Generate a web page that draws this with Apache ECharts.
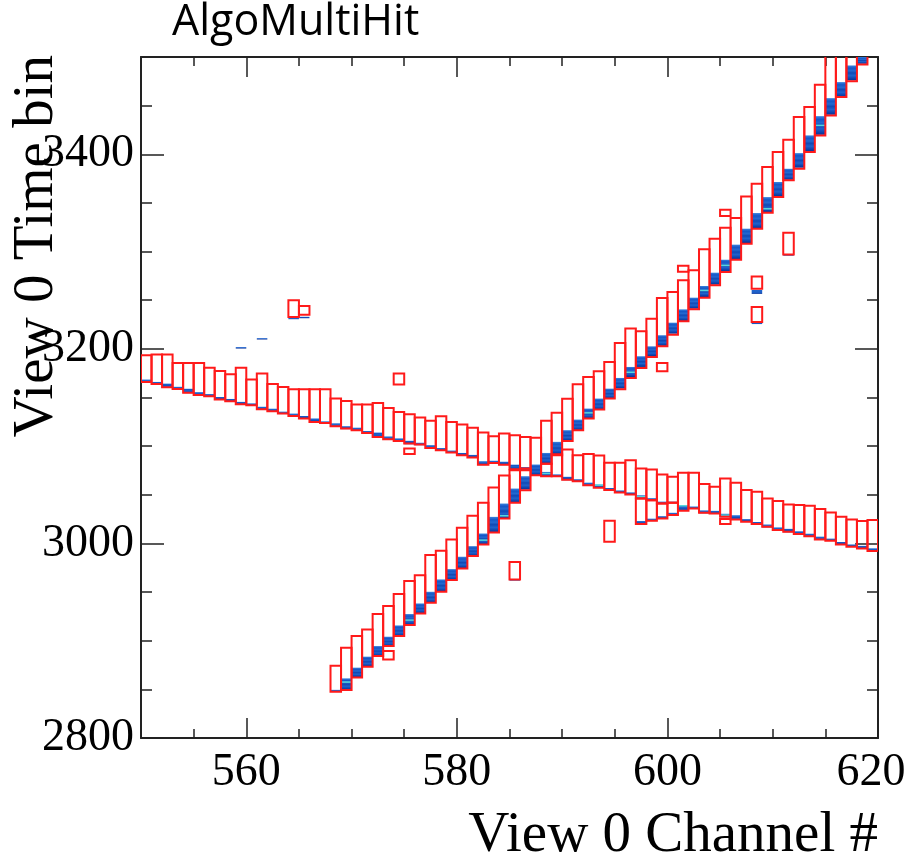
<!DOCTYPE html>
<html>
<head>
<meta charset="utf-8">
<script src="https://cdn.jsdelivr.net/npm/echarts@6/dist/echarts.min.js"></script>
<style>
  html, body { margin: 0; padding: 0; background: #fff; }
  #chart { width: 908px; height: 859px; }
</style>
</head>
<body>
<div id="chart"></div>
<script>
// Axis ranges and tick positions
const xRange = [550, 620];
const yRange = [2800, 3500];
const xLabelValues = [560, 580, 600, 620];
const xMinorTicks = [555, 565, 570, 575, 585, 590, 595, 605, 610, 615];
const yLabelValues = [2800, 3000, 3200, 3400];
const yMinorTicks = [2850, 2900, 2950, 3050, 3100, 3150, 3250, 3300, 3350, 3450];

// Reconstructed hits: [channel, start tick, end tick]
const shallowHits = [
  [550, 3166.0, 3193.4], [551, 3163.9, 3194.1], [552, 3160.5, 3194.1], [553, 3158.8, 3185.5],
  [554, 3155.0, 3185.5], [555, 3152.6, 3185.5], [556, 3151.3, 3180.7], [557, 3147.9, 3177.3],
  [558, 3146.1, 3173.9], [559, 3143.1, 3180.7], [560, 3142.0, 3168.4], [561, 3137.9, 3174.6],
  [562, 3135.9, 3164.0], [563, 3133.5, 3160.9], [564, 3131.1, 3158.5], [565, 3128.3, 3158.5],
  [566, 3124.9, 3158.5], [567, 3123.9, 3158.5], [568, 3120.5, 3148.9], [569, 3118.1, 3146.5],
  [570, 3116.4, 3142.7], [571, 3113.6, 3142.7], [572, 3109.5, 3144.4], [573, 3107.1, 3139.3],
  [574, 3105.4, 3135.2], [575, 3102.7, 3132.8], [576, 3101.7, 3129.4], [577, 3098.2, 3126.0],
  [578, 3095.8, 3130.8], [579, 3093.4, 3124.9], [580, 3090.7, 3122.2], [581, 3088.3, 3118.8],
  [582, 3081.0, 3114.0], [583, 3082.8, 3110.2], [584, 3081.0, 3113.0], [585, 3076.3, 3111.2],
  [586, 3075.3, 3109.5], [588, 3069.1, 3082.0], [589, 3069.1, 3091.7], [590, 3065.5, 3096.6],
  [591, 3064.0, 3090.7], [592, 3059.9, 3091.8], [593, 3057.3, 3090.4], [594, 3054.8, 3082.9],
  [595, 3052.4, 3082.9], [596, 3050.3, 3085.6], [597, 3046.2, 3077.1], [597, 3019.9, 3046.2],
  [598, 3044.5, 3076.0], [598, 3023.3, 3044.5], [599, 3041.1, 3070.9], [599, 3025.7, 3041.1],
  [600, 3041.8, 3068.5], [600, 3029.1, 3041.8], [601, 3033.6, 3072.6], [602, 3036.0, 3072.6],
  [603, 3031.5, 3061.0], [604, 3030.8, 3058.2], [605, 3027.4, 3066.8], [606, 3024.7, 3062.3],
  [607, 3022.3, 3054.8], [608, 3019.9, 3053.1], [609, 3017.1, 3046.2], [610, 3013.7, 3043.5],
  [611, 3012.0, 3040.1], [612, 3009.6, 3039.4], [613, 3007.5, 3038.7], [614, 3004.1, 3035.3],
  [615, 3002.8, 3031.9], [616, 2999.0, 3027.4], [617, 2996.6, 3024.7], [618, 2994.9, 3023.0],
  [619, 2992.1, 3024.0]
];

const steepHits = [
  [568, 2847.6, 2874.3], [569, 2849.3, 2892.8], [570, 2862.3, 2904.8], [571, 2873.3, 2911.6],
  [572, 2884.2, 2927.4], [573, 2894.5, 2935.6], [574, 2904.8, 2947.9], [575, 2916.1, 2961.3],
  [576, 2928.1, 2967.4], [577, 2939.0, 2988.0], [578, 2950.3, 2992.4], [579, 2962.3, 3004.1],
  [580, 2974.3, 3016.0], [581, 2987.0, 3028.4], [582, 2998.8, 3041.7], [583, 3011.3, 3057.5],
  [584, 3025.6, 3069.8], [585, 3041.7, 3075.3], [586, 3054.7, 3077.0], [587, 3070.1, 3108.5],
  [588, 3082.0, 3126.0], [589, 3090.7, 3134.2], [590, 3105.4, 3148.7], [591, 3116.4, 3163.6],
  [592, 3128.4, 3171.2], [593, 3137.6, 3177.0], [594, 3148.9, 3186.5], [595, 3158.5, 3206.0],
  [596, 3170.1, 3220.8], [597, 3180.4, 3218.0], [598, 3191.7, 3231.0], [599, 3202.6, 3252.3],
  [600, 3214.6, 3258.4], [601, 3228.3, 3270.4], [602, 3240.6, 3280.7], [603, 3252.6, 3302.3],
  [604, 3265.3, 3313.2], [605, 3279.0, 3324.5], [606, 3291.6, 3334.5], [607, 3308.1, 3356.7],
  [608, 3323.5, 3369.7], [609, 3340.0, 3386.9], [610, 3356.0, 3402.3], [611, 3373.2, 3414.9],
  [612, 3385.1, 3438.2], [613, 3402.3, 3448.5], [614, 3419.4, 3471.4], [615, 3439.9, 3530],
  [616, 3458.8, 3540], [617, 3475.2, 3550], [618, 3492.3, 3560]
];

const strayHits = [
  [564, 3232.8, 3249.9], [565, 3235.0, 3244.0], [574, 3163.3, 3174.6], [575, 3091.8, 3097.6],
  [573, 2880.8, 2889.4], [585, 2962.9, 2980.8], [594, 3001.7, 3023.3], [599, 3177.0, 3185.5],
  [601, 3279.3, 3285.5], [605, 3336.5, 3343.0], [605, 3019.9, 3025.0], [608, 3261.9, 3274.5],
  [608, 3227.6, 3243.0], [611, 3297.1, 3319.4]
];

// Wire signal above threshold: [channel, low tick, high tick]
const shallowSignal = [
  [550, 3165.5, 3168.5], [551, 3163.5, 3166], [552, 3160, 3164.3], [553, 3158.5, 3161],
  [554, 3154.5, 3159], [555, 3152, 3155.5], [556, 3151, 3153.5], [557, 3147.5, 3150.5],
  [558, 3145.5, 3148.5], [559, 3142.5, 3145.5], [560, 3141.5, 3144], [561, 3137.5, 3140.5],
  [562, 3135.5, 3138.5], [563, 3133, 3135.5], [564, 3130.5, 3133.5], [565, 3128, 3131],
  [566, 3124.5, 3128.5], [567, 3123.5, 3125.5], [568, 3120, 3123.5], [569, 3117.5, 3120.5],
  [570, 3116, 3119], [571, 3113, 3115.5], [572, 3109, 3114], [573, 3106.5, 3110],
  [574, 3105, 3108], [575, 3102, 3105.5], [576, 3101, 3103.5], [577, 3097.5, 3101],
  [578, 3095.5, 3098], [579, 3093, 3095.5], [580, 3090, 3093], [581, 3088, 3091],
  [582, 3080.5, 3084.5], [583, 3082.5, 3085], [584, 3080.5, 3084], [585, 3076, 3081],
  [586, 3075, 3078.5], [588, 3069, 3073.5], [589, 3069, 3071], [590, 3065, 3068.5],
  [591, 3063.5, 3066], [592, 3059.5, 3062.5], [593, 3057, 3060.5], [594, 3054.5, 3057],
  [595, 3052, 3054.5], [596, 3050, 3052.5], [597, 3046, 3049.5], [597, 3019.5, 3023],
  [598, 3044, 3046.5], [598, 3023, 3025.5], [599, 3040.5, 3043], [599, 3025.5, 3028],
  [600, 3041.5, 3043], [600, 3029, 3031.5], [601, 3033.5, 3039], [602, 3035.5, 3038],
  [603, 3031, 3034], [604, 3030.5, 3033.5], [605, 3027, 3030.5], [606, 3024.5, 3029],
  [607, 3022, 3025], [608, 3019.5, 3022], [609, 3016.5, 3019.5], [610, 3013.5, 3016.5],
  [611, 3011.5, 3015], [612, 3009.5, 3012.5], [613, 3007, 3010], [614, 3004, 3007],
  [615, 3002.5, 3005], [616, 2998.5, 3001.5], [617, 2996.5, 2999], [618, 2994.5, 2997.5],
  [619, 2992, 2995]
];

const steepSignal = [
  [568, 2847.3, 2849.5], [569, 2849.3, 2861.3], [570, 2862.3, 2872.3], [571, 2873.3, 2883.6],
  [572, 2884.2, 2894.5], [573, 2894.5, 2904.1], [574, 2904.8, 2915.7], [575, 2916.1, 2927.4],
  [576, 2928.1, 2938.3], [577, 2939.0, 2950.3], [578, 2950.3, 2963.0], [579, 2962.3, 2973.6],
  [580, 2974.3, 2986.3], [581, 2987.0, 2997.2], [582, 2998.9, 3010.2], [583, 3011.3, 3027.3],
  [584, 3025.6, 3041.0], [585, 3041.7, 3056.4], [586, 3055.4, 3069.1], [587, 3070.2, 3081.1],
  [588, 3082.0, 3093.0], [589, 3091.7, 3104.4], [590, 3105.4, 3116.4], [591, 3116.4, 3127.3],
  [592, 3128.4, 3138.6], [593, 3137.6, 3148.9], [594, 3148.9, 3159.1], [595, 3159.2, 3170.1],
  [596, 3171.1, 3181.4], [597, 3181.4, 3192.4], [598, 3192.4, 3202.6], [599, 3203.0, 3214.0],
  [600, 3215.6, 3226.9], [601, 3228.6, 3240.6], [602, 3241.3, 3252.6], [603, 3253.3, 3264.6],
  [604, 3266.0, 3278.3], [605, 3279.7, 3291.6], [606, 3292.0, 3307.1], [607, 3308.8, 3323.5],
  [608, 3323.5, 3339.6], [609, 3339.9, 3356.0], [610, 3356.7, 3371.5], [611, 3373.8, 3385.1],
  [612, 3386.2, 3401.2], [613, 3403.0, 3419.4], [614, 3420.0, 3439.2], [615, 3440.6, 3457.7],
  [616, 3458.8, 3474.2], [617, 3475.9, 3491.3], [618, 3493.0, 3500.0]
];

const straySignal = [
  [559, 3200.3, 3201.8], [561, 3209.6, 3211.0], [564, 3230.5, 3232.5], [565, 3231.5, 3233.0],
  [585, 2961.8, 2963.3], [608, 3256.5, 3260.5], [608, 3225.5, 3227.0], [611, 3295.8, 3297.3]
];

// Brightest samples on some wires: [channel, tick]
const signalPeaks = [
  [569, 2857.5], [575, 2921.2], [582, 3003.4], [584, 3028.4], [588, 3071.9], [592, 3134.2],
  [596, 3176.0], [603, 3260.0], [605, 3285.8], [609, 3344.0], [614, 3429.7],
  [593, 3059.9], [601, 3038.7], [605, 3029.1], [597, 3048.0]
];

const chart = echarts.init(document.getElementById('chart'), null, { renderer: 'canvas' });

function cellRect(api, ch, lo, hi) {
  const p0 = api.coord([ch, hi]);
  const p1 = api.coord([ch + 1, lo]);
  return { x: p0[0], y: p0[1], width: p1[0] - p0[0], height: p1[1] - p0[1] };
}

const signalFill = new echarts.graphic.LinearGradient(0, 0, 0, 1, [
  { offset: 0, color: '#3a84de' },
  { offset: 0.18, color: '#1557c6' },
  { offset: 0.35, color: '#2469d0' },
  { offset: 0.5, color: '#1149b4' },
  { offset: 0.68, color: '#1f62cb' },
  { offset: 0.85, color: '#1045ae' },
  { offset: 1, color: '#0b2f92' }
]);

function signalSeries(data) {
  return {
    type: 'custom',
    xAxisIndex: 0,
    yAxisIndex: 0,
    clip: true,
    silent: true,
    data: data,
    renderItem: function (params, api) {
      return {
        type: 'rect',
        shape: cellRect(api, api.value(0), api.value(1), api.value(2)),
        style: { fill: signalFill }
      };
    }
  };
}

function hitSeries(data) {
  return {
    type: 'custom',
    xAxisIndex: 0,
    yAxisIndex: 0,
    clip: true,
    silent: true,
    data: data,
    renderItem: function (params, api) {
      return {
        type: 'rect',
        shape: cellRect(api, api.value(0), api.value(1), api.value(2)),
        style: { fill: null, stroke: '#ff1a1a', lineWidth: 2 }
      };
    }
  };
}

const peakSeries = {
  type: 'custom',
  xAxisIndex: 0,
  yAxisIndex: 0,
  clip: true,
  silent: true,
  data: signalPeaks,
  renderItem: function (params, api) {
    const t = api.value(1);
    return {
      type: 'rect',
      shape: cellRect(api, api.value(0), t - 0.8, t + 0.8),
      style: { fill: '#56d6dc' }
    };
  }
};

const serif = 'Liberation Serif';
const frameLine = { show: true, lineStyle: { color: '#222', width: 2 } };
const plainNumber = function (v) { return String(v); };
// the last channel label is nudged left so it stays inside the canvas
const xLabelText = function (v) { return v === xRange[1] ? '{edge|' + v + '}' : String(v); };

function xAxisDef(position, ticks, len, showLabel, showLine) {
  return {
    type: 'value', min: xRange[0], max: xRange[1], position: position,
    axisLine: showLine ? frameLine : { show: false },
    axisTick: { show: true, inside: true, length: len, customValues: ticks, lineStyle: { color: '#222', width: 1.5 } },
    axisLabel: showLabel
      ? {
          show: true, customValues: xLabelValues, formatter: xLabelText,
          fontFamily: serif, fontSize: 46, color: '#000', margin: 12,
          rich: { edge: { fontFamily: serif, fontSize: 46, color: '#000', padding: [0, 14, 0, 0] } }
        }
      : { show: false },
    splitLine: { show: false }
  };
}

function yAxisDef(position, ticks, len, showLabel, showLine) {
  return {
    type: 'value', min: yRange[0], max: yRange[1], position: position,
    axisLine: showLine ? frameLine : { show: false },
    axisTick: { show: true, inside: true, length: len, customValues: ticks, lineStyle: { color: '#222', width: 1.5 } },
    axisLabel: showLabel
      ? { show: true, customValues: yLabelValues, formatter: plainNumber, fontFamily: serif, fontSize: 46, color: '#000', margin: 7 }
      : { show: false },
    splitLine: { show: false }
  };
}

chart.setOption({
  animation: false,
  backgroundColor: '#ffffff',
  grid: { left: 141, right: 30, top: 57, bottom: 121, containLabel: false, outerBoundsMode: 'none' },
  xAxis: [
    xAxisDef('bottom', xLabelValues, 20, true, true),
    xAxisDef('bottom', xMinorTicks, 9, false, false),
    xAxisDef('top', xLabelValues, 20, false, true),
    xAxisDef('top', xMinorTicks, 9, false, false)
  ],
  yAxis: [
    yAxisDef('left', yLabelValues, 23, true, true),
    yAxisDef('left', yMinorTicks, 11, false, false),
    yAxisDef('right', yLabelValues, 23, false, true),
    yAxisDef('right', yMinorTicks, 11, false, false)
  ],
  series: [
    signalSeries(shallowSignal),
    signalSeries(steepSignal),
    signalSeries(straySignal),
    peakSeries,
    hitSeries(shallowHits),
    hitSeries(steepHits),
    hitSeries(strayHits)
  ],
  graphic: [
    {
      type: 'text', left: 172, top: 1,
      style: { text: 'AlgoMultiHit', fontFamily: 'Open Sans', fontSize: 43, fill: '#000' }
    },
    {
      type: 'text', x: 878, y: 836,
      style: { text: 'View 0 Channel #', fontFamily: serif, fontSize: 57, fill: '#000', align: 'right', verticalAlign: 'middle' }
    },
    {
      type: 'text', x: 37, y: 55, rotation: Math.PI / 2,
      style: { text: 'View 0 Time bin', fontFamily: serif, fontSize: 57, fill: '#000', align: 'right', verticalAlign: 'middle' }
    }
  ]
});
</script>
</body>
</html>
